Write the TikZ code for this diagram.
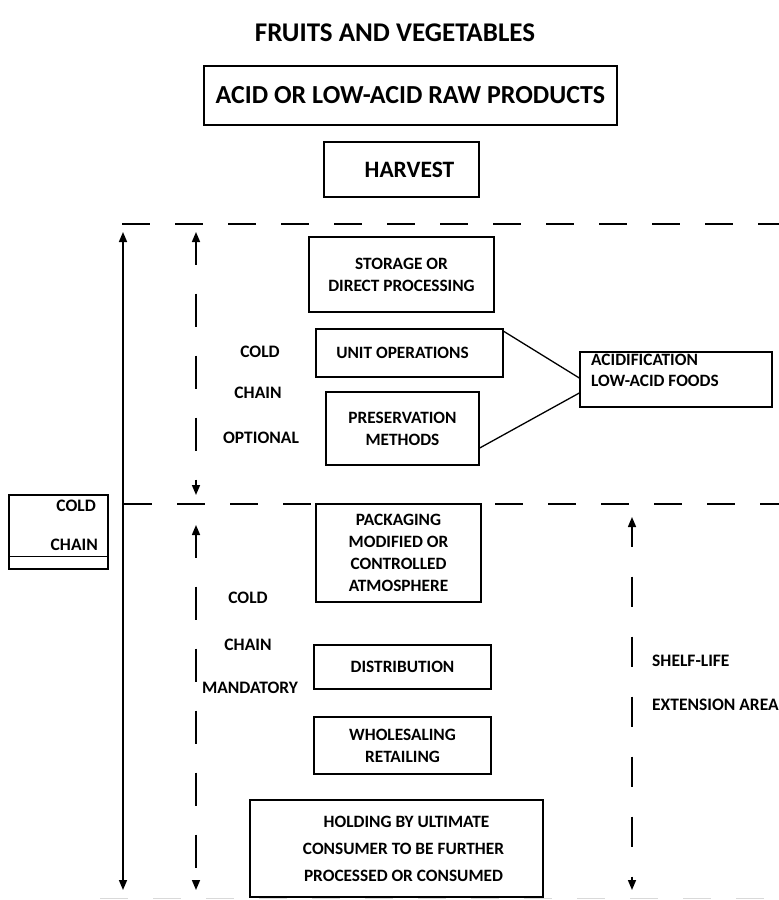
\documentclass[tikz,border=0pt]{standalone}
\usepackage{fontspec}
\setmainfont{Carlito}
\usetikzlibrary{arrows.meta,positioning}
\tikzset{
	box/.style={draw, line width=1.4pt, align=center, inner sep=0pt,
		font=\bfseries\fontsize{17.3}{22}\selectfont},
	lbl/.style={inner sep=0pt, font=\bfseries\fontsize{17.5}{20}\selectfont},
	divider/.style={line width=2pt, dash pattern=on 28pt off 25pt},
	twoway/.style={line width=1.5pt,
		{Triangle[length=10pt,width=8pt]}-{Triangle[length=10pt,width=8pt]}},
}

\begin{document}
\begin{tikzpicture}[x=1pt, y=-1pt]
	\useasboundingbox (0,0) rectangle (779,900);
	
	% title
	\node[font=\bfseries\fontsize{27}{30}\selectfont] (title) at (395,33) {FRUITS AND VEGETABLES};
	
	% raw products, harvest
	\node[box, minimum width=413, minimum height=59, font=\bfseries\fontsize{26}{28}\selectfont] (raw) at (410.5,95.5) {ACID OR LOW-ACID RAW PRODUCTS};
	\node[box, minimum width=155, minimum height=55, font=\bfseries\fontsize{23.5}{26}\selectfont] (harvest) at (401.5,169.5) {\hspace*{16pt}HARVEST};
	
	% dividers
	\draw[divider] (122,224) -- (779,224);
	\draw[divider] (124,504) -- (779,504);
	\draw[divider, gray!30, line width=1pt] (100,898) -- (779,898);
	
	% arrows
	\draw[twoway] (123,232) -- (123,890);
	\draw[twoway, dash pattern=on 33pt off 29pt, dash phase=10pt] (196,232) -- (196,495);
	\draw[twoway, dash pattern=on 33pt off 29pt, dash phase=10pt] (196,525) -- (196,890);
	\draw[twoway, dash pattern=on 30pt off 30pt, dash phase=10pt] (632,517) -- (632,890);
	
	% optional part
	\node[box, minimum width=185, minimum height=75] (storage) at (401.5,274.5) {STORAGE OR\\DIRECT PROCESSING};
	\node[box, minimum width=187, minimum height=48] (unitops) at (409.5,353) {UNIT OPERATIONS\hspace*{14pt}};
	\node[box, minimum width=153, minimum height=73] (presv) at (402.5,428.5) {PRESERVATION\\METHODS};
	\node[box, minimum width=192, minimum height=55] (acid) at (676,379.5) {};
	\node[lbl, anchor=north west, align=left, font=\bfseries\fontsize{17.3}{21}\selectfont] (acidtxt) at (591,354) {ACIDIFICATION\\LOW-ACID FOODS};
	\draw[line width=1.3pt] ([yshift=-3pt]unitops.north east) -- ([yshift=1.5pt]acid.west);
	\draw[line width=1.3pt] ([yshift=-19.5pt]presv.east) -- ([yshift=-13.5pt]acid.west);
	
	\node[lbl] (optcold) at (260,352) {COLD};
	\node[lbl] (optchain) at (258,393) {CHAIN};
	\node[lbl] (optional) at (261,438) {OPTIONAL};
	
	% mandatory part
	\node[box, minimum width=165, minimum height=98] (pack) at (398.5,553) {PACKAGING\\MODIFIED OR\\CONTROLLED\\ATMOSPHERE};
	\node[box, minimum width=177, minimum height=44] (distr) at (402.5,667) {DISTRIBUTION};
	\node[box, minimum width=177, minimum height=57] (retail) at (402.5,745.5) {WHOLESALING\\RETAILING};
	\node[box, minimum width=293, minimum height=97, font=\bfseries\fontsize{17.3}{27}\selectfont] (consumer) at (396.5,848.5) {\hspace*{20pt}HOLDING BY ULTIMATE\\\hspace*{14pt}CONSUMER TO BE FURTHER\\\hspace*{14pt}PROCESSED OR CONSUMED};
	
	\node[lbl] (mancold) at (248,598) {COLD};
	\node[lbl] (manchain) at (248,645) {CHAIN};
	\node[lbl] (mandatory) at (250,688) {MANDATORY};
	
	% cold chain box
	\node[draw, line width=1.3pt, minimum width=99, minimum height=74, inner sep=0pt] (coldbox) at (58.5,532) {};
	\draw[line width=1.3pt] ([yshift=13pt]coldbox.south west) -- ([yshift=13pt]coldbox.south east);
	\node[lbl, anchor=east] (boxcold) at (96,506) {COLD};
	\node[lbl, anchor=east] (boxchain) at (98,545) {CHAIN};
	
	% shelf-life
	\node[lbl, anchor=west] (shelf) at (652,661) {SHELF-LIFE};
	\node[lbl, anchor=west] (extension) at (652,705) {EXTENSION AREA};
\end{tikzpicture}
\end{document}
